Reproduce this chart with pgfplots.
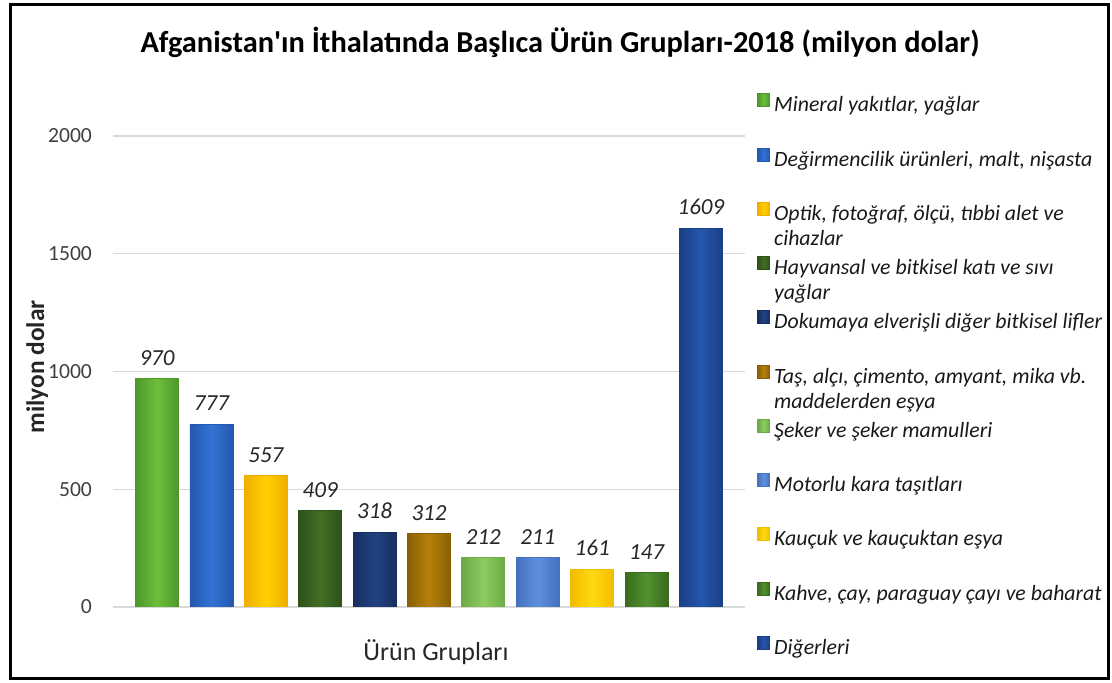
\documentclass[border=0pt]{standalone}
\usepackage{fontspec}
\setmainfont{Carlito}
\usepackage{pgfplots}
\pgfplotsset{compat=1.18}

% bar colours: middle / edge
\definecolor{c1m}{HTML}{6DC03C}\definecolor{c1e}{HTML}{4E962A}
\definecolor{c2m}{HTML}{3272D4}\definecolor{c2e}{HTML}{2558AE}
\definecolor{c3m}{HTML}{FFD000}\definecolor{c3e}{HTML}{EFAE00}
\definecolor{c4m}{HTML}{416F25}\definecolor{c4e}{HTML}{2E5219}
\definecolor{c5m}{HTML}{214283}\definecolor{c5e}{HTML}{172F60}
\definecolor{c6m}{HTML}{B58109}\definecolor{c6e}{HTML}{8A6005}
\definecolor{c7m}{HTML}{8DCC60}\definecolor{c7e}{HTML}{6DAA46}
\definecolor{c8m}{HTML}{5E90DE}\definecolor{c8e}{HTML}{4570BE}
\definecolor{c9m}{HTML}{FFDA10}\definecolor{c9e}{HTML}{F2BC00}
\definecolor{c10m}{HTML}{52922E}\definecolor{c10e}{HTML}{386B1D}
\definecolor{c11m}{HTML}{2656AC}\definecolor{c11e}{HTML}{1A3F88}

\newcommand\lent[1]{\parbox[t][27.1pt][t]{185pt}{\raggedright #1}}

\pgfplotsset{
  mybar/.style={
    bar shift=0pt,
    draw=#1e, line width=0.4pt,
    left color=#1e, right color=#1e, middle color=#1m,
    legend image code/.code={\draw[##1] (0pt,-0.5pt) rectangle (6pt,6pt);},
  },
}

\begin{document}
\begin{tikzpicture}
\useasboundingbox (0,0) rectangle (556pt,341.5pt);
\draw[line width=1.5pt] (5pt,2pt) rectangle (554pt,339pt);
\node[font=\fontsize{15.2}{18}\selectfont\bfseries] at (280pt,320.5pt)
  {Afganistan\textquotesingle ın İthalatında Başlıca Ürün Grupları-2018 (milyon dolar)};
\begin{axis}[
  at={(56.5pt,38pt)}, anchor=south west,
  scale only axis, width=316pt, height=235.5pt,
  ybar, bar width=21.5pt,
  ymin=0, ymax=2000, xmin=-0.81, xmax=10.81,
  ytick={0,500,1000,1500,2000}, xtick=\empty,
  ymajorgrids, major grid style={draw=black!15, line width=0.6pt},
  axis line style={draw=none}, tick style={draw=none},
  /pgf/number format/assume math mode=true,
  /pgf/number format/1000 sep={},
  yticklabel style={font=\fontsize{10.8}{13}\selectfont, text=black!75, xshift=-7pt},
  xlabel={Ürün Grupları},
  xlabel style={at={(axis description cs:0.511,-0.0955)}, anchor=center,
    font=\fontsize{13}{15}\selectfont, text=black!85},
  ylabel={milyon dolar},
  ylabel style={at={(axis description cs:-0.12,0.51)}, anchor=center,
    font=\fontsize{12.7}{15}\selectfont\bfseries, text=black!85},
  nodes near coords,
  every node near coord/.append style={font=\fontsize{11.5}{13}\selectfont\itshape,
    text=black!85, yshift=3pt},
  legend cell align=left,
  legend style={draw=none, fill=none, at={(axis description cs:1.019,1.0914)},
    anchor=north west, font=\fontsize{10.9}{12.5}\selectfont\itshape,
    row sep=16.4pt, column sep=2pt, inner sep=0pt,
    nodes={inner sep=0pt, text=black!90}},
]
\addplot[mybar=c1]  coordinates {(0,970)};
\addlegendentry{\lent{Mineral yakıtlar, yağlar}}
\addplot[mybar=c2]  coordinates {(1,777)};
\addlegendentry{\lent{Değirmencilik ürünleri, malt, nişasta}}
\addplot[mybar=c3]  coordinates {(2,557)};
\addlegendentry{\lent{Optik, fotoğraf, ölçü, tıbbi alet ve\\cihazlar}}
\addplot[mybar=c4]  coordinates {(3,409)};
\addlegendentry{\lent{Hayvansal ve bitkisel katı ve sıvı\\yağlar}}
\addplot[mybar=c5]  coordinates {(4,318)};
\addlegendentry{\lent{Dokumaya elverişli diğer bitkisel lifler}}
\addplot[mybar=c6]  coordinates {(5,312)};
\addlegendentry{\lent{Taş, alçı, çimento, amyant, mika vb.\\maddelerden eşya}}
\addplot[mybar=c7]  coordinates {(6,212)};
\addlegendentry{\lent{Şeker ve şeker mamulleri}}
\addplot[mybar=c8]  coordinates {(7,211)};
\addlegendentry{\lent{Motorlu kara taşıtları}}
\addplot[mybar=c9]  coordinates {(8,161)};
\addlegendentry{\lent{Kauçuk ve kauçuktan eşya}}
\addplot[mybar=c10] coordinates {(9,147)};
\addlegendentry{\lent{Kahve, çay, paraguay çayı ve baharat}}
\addplot[mybar=c11] coordinates {(10,1609)};
\addlegendentry{\lent{Diğerleri}}
\end{axis}
\end{tikzpicture}
\end{document}
